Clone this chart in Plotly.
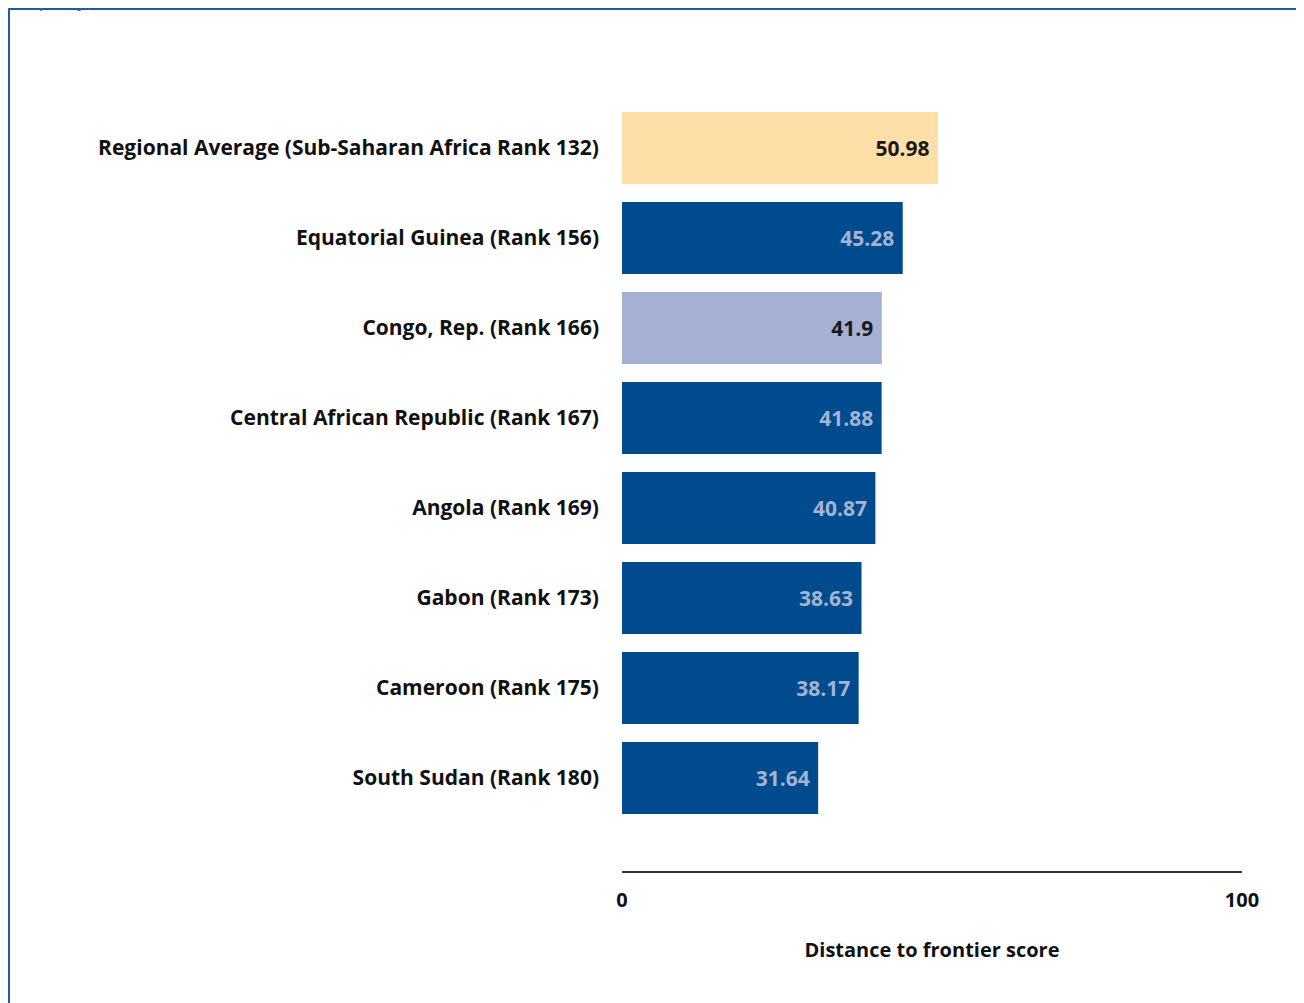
import plotly.graph_objects as go

categories = [
    "Regional Average (Sub-Saharan Africa Rank 132)",
    "Equatorial Guinea (Rank 156)",
    "Congo, Rep. (Rank 166)",
    "Central African Republic (Rank 167)",
    "Angola (Rank 169)",
    "Gabon (Rank 173)",
    "Cameroon (Rank 175)",
    "South Sudan (Rank 180)",
]
scores = [50.98, 45.28, 41.9, 41.88, 40.87, 38.63, 38.17, 31.64]
score_labels = ["50.98", "45.28", "41.9", "41.88", "40.87", "38.63", "38.17", "31.64"]
tick_values = [0, 100]
tick_labels = ["0", "100"]

DARK = "#004b8d"
LIGHT = "#a4b1d3"
PEACH = "#fedfa8"
bar_colors = [PEACH, DARK, LIGHT, DARK, DARK, DARK, DARK, DARK]
text_colors = ["#1a1a1a", "#a3b3d3", "#1a1a1a", "#a3b3d3", "#a3b3d3", "#a3b3d3", "#a3b3d3", "#a3b3d3"]

FONT = "Open Sans"
FS = 20
FS_CAT = 21

fig = go.Figure()
fig.add_trace(go.Bar(
    x=scores,
    y=categories,
    orientation="h",
    width=0.8,
    marker=dict(color=bar_colors, line=dict(width=0)),
    text=[s + " " for s in score_labels],
    textposition="inside",
    insidetextanchor="end",
    textfont=dict(family=FONT, size=FS_CAT, color=text_colors, weight="bold"),
    cliponaxis=False,
    hoverinfo="skip",
))

W, H = 1304, 1003
OFF = 8  # page offset of the figure
L, R, T, B = 622 - OFF, 1304 - (1242 - OFF), 103 - OFF, 1003 - (871 - OFF)
pw, ph = W - L - R, H - T - B

def px_x(page_px):
    return (page_px - OFF - L) / pw

def px_y(page_py):
    return (H - B - (page_py - OFF)) / ph

fig.update_layout(
    width=W, height=H,
    margin=dict(l=L, r=R, t=T, b=B, pad=0),
    paper_bgcolor="white",
    plot_bgcolor="white",
    showlegend=False,
    font=dict(family=FONT, size=FS, color="#111111"),
    xaxis=dict(
        range=[0, 100],
        tickvals=tick_values,
        ticktext=tick_labels,
        showgrid=False,
        zeroline=False,
        showline=True,
        linecolor="#333333",
        linewidth=2,
        ticks="",
        ticklabelstandoff=10,
        tickfont=dict(family=FONT, size=FS, color="#111111", weight="bold"),
        title=dict(text="Distance to frontier score",
                   font=dict(family=FONT, size=FS, color="#111111", weight="bold"),
                   standoff=31),
        fixedrange=True,
    ),
    yaxis=dict(
        categoryorder="array",
        categoryarray=categories,
        range=[8.033, -0.5],
        showgrid=False,
        zeroline=False,
        showline=False,
        ticks="",
        ticklabelstandoff=22,
        tickfont=dict(family=FONT, size=FS_CAT, color="#111111", weight="bold"),
        fixedrange=True,
    ),
    shapes=[
        dict(type="line", xref="paper", yref="paper",
             x0=px_x(9), x1=px_x(9), y0=px_y(9), y1=px_y(1020),
             line=dict(color="#1d5aa0", width=2)),
        dict(type="line", xref="paper", yref="paper",
             x0=px_x(8), x1=px_x(1320), y0=px_y(9), y1=px_y(9),
             line=dict(color="#1d5aa0", width=2)),
    ],
    annotations=[
        dict(text="property)", xref="paper", yref="paper",
             x=px_x(4), y=px_y(14), xanchor="left", yanchor="bottom",
             showarrow=False,
             font=dict(family=FONT, size=20, color="#2a6ab4")),
    ],
)

fig.write_html("out.html")
